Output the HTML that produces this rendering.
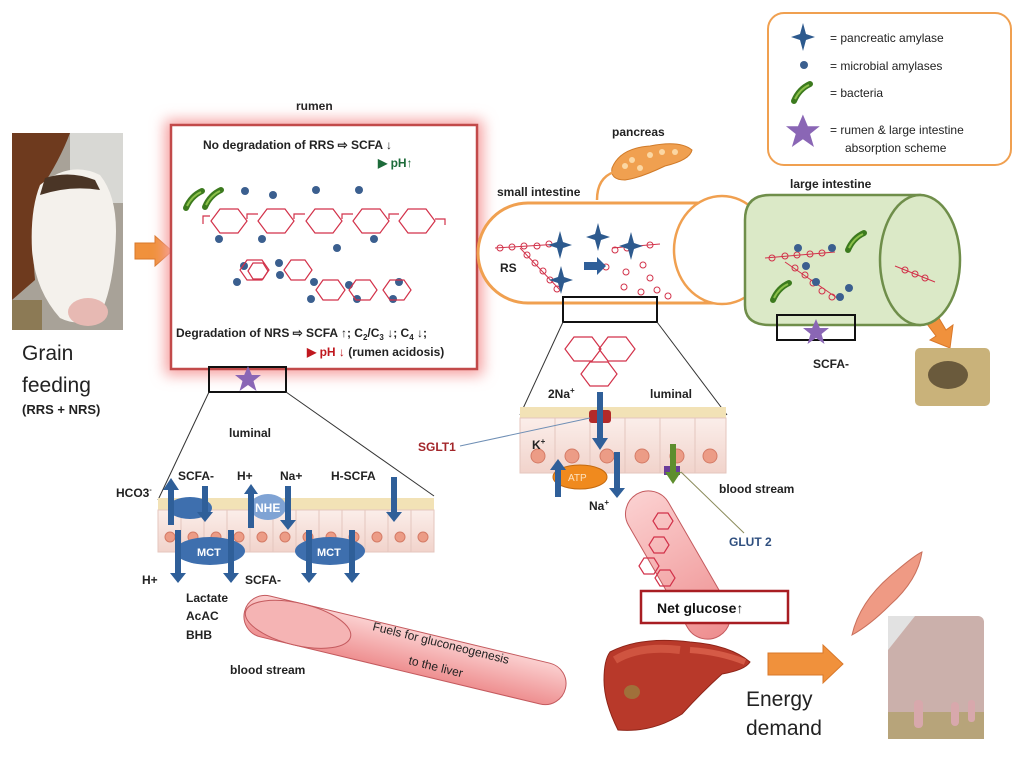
<!DOCTYPE html>
<html><head><meta charset="utf-8"><style>
html,body{margin:0;padding:0;background:#fff;}
svg{display:block;font-family:"Liberation Sans",sans-serif;}
.b{font-weight:bold;}
</style></head><body>
<svg width="1024" height="771" viewBox="0 0 1024 771" xmlns="http://www.w3.org/2000/svg">
<defs>
<filter id="glow" x="-20%" y="-20%" width="140%" height="140%"><feGaussianBlur stdDeviation="7"/></filter>
<linearGradient id="pinkT" x1="0" y1="0" x2="0" y2="1"><stop offset="0" stop-color="#fbd0d0"/><stop offset="1" stop-color="#ee8f90"/></linearGradient>
<linearGradient id="cellG" x1="0" y1="0" x2="0" y2="1"><stop offset="0" stop-color="#fbeeea"/><stop offset="1" stop-color="#f1d3cb"/></linearGradient>
<g id="star4"><path d="M0,-14 L3,-3 L12,0 L3,3 L0,14 L-3,3 L-12,0 L-3,-3Z" fill="#2d5a8e"/></g>
<g id="bug"><path d="M-9,8 Q-4,-4 7,-9" stroke="#3c7a1e" stroke-width="6" stroke-linecap="round" fill="none"/><path d="M-8,6 Q-3,-4 6,-8" stroke="#8cc04a" stroke-width="2" fill="none"/></g>
<g id="pstar"><path d="M0,-13 L3.8,-4 L13,-4 L5.5,2 L8.5,12 L0,6 L-8.5,12 L-5.5,2 L-13,-4 L-3.8,-4Z" fill="#8a66b5"/></g>
<g id="hex"><path d="M-10,0 L-5,-8 L5,-8 L10,0 L5,8 L-5,8Z" fill="none" stroke="#d2324a" stroke-width="1.2"/></g>
<g id="hexb"><path d="M-18,0 L-9,-12 L9,-12 L18,0 L9,12 L-9,12Z" fill="none" stroke="#d2324a" stroke-width="1.2"/></g>
</defs>

<!-- cow photo -->
<rect x="12" y="133" width="111" height="197" fill="#a8a298"/>
<rect x="70" y="133" width="53" height="70" fill="#d8d8d4"/>
<path d="M12,133 L70,133 Q60,160 40,190 Q30,230 35,280 L12,300Z" fill="#6e3a1e"/>
<path d="M40,185 Q70,160 100,175 Q120,200 115,250 Q112,290 100,315 Q80,328 60,318 Q35,290 32,250 Q30,210 40,185Z" fill="#f4f1ec"/>
<path d="M45,178 Q70,170 95,180 L100,190 Q70,185 40,195Z" fill="#4a3526"/>
<ellipse cx="88" cy="312" rx="20" ry="14" fill="#e7b9b3"/>
<rect x="12" y="300" width="30" height="30" fill="#8c7a55"/>

<text x="22" y="360" font-size="21" fill="#222">Grain</text>
<text x="22" y="392" font-size="21" fill="#222">feeding</text>
<text x="22" y="414" font-size="13" class="b" fill="#222">(RRS + NRS)</text>

<!-- orange arrows -->
<path d="M135,243 L155,243 L155,236 L172,251 L155,266 L155,259 L135,259Z" fill="#f0913c" stroke="#d9782a"/>
<path d="M448,232 L466,240 L470,232 L488,256 L460,262 L463,254 L444,246Z" fill="#f0913c" stroke="#d9782a"/>
<path d="M713,251 L735,251 L735,244 L752,258 L735,272 L735,265 L713,265Z" fill="#f0913c" stroke="#d9782a"/>
<path d="M918,312 L930,303 L946,330 L953,325 L950,348 L930,340 L936,336Z" fill="#f0913c" stroke="#d9782a"/>
<path d="M768,653 L823,653 L823,645 L843,664 L823,683 L823,675 L768,675Z" fill="#f0913c" stroke="#d9782a"/>

<!-- rumen -->
<text x="296" y="110" font-size="12" class="b" fill="#222">rumen</text>
<rect x="165" y="120" width="318" height="255" fill="#f6a0a0" filter="url(#glow)"/>
<rect x="171" y="125" width="306" height="244" fill="#fff" stroke="#c24a4a" stroke-width="2.5"/>
<text x="203" y="149" font-size="12" class="b" fill="#222">No degradation of RRS ⇨  SCFA ↓</text>
<text x="378" y="167" font-size="12" class="b" fill="#1d6b3a">▶ pH↑</text>
<use href="#bug" x="195" y="200"/><use href="#bug" x="214" y="199"/>
<g fill="#3b5f8f">
<circle cx="245" cy="191" r="4"/><circle cx="273" cy="195" r="4"/><circle cx="316" cy="190" r="4"/><circle cx="359" cy="190" r="4"/>
<circle cx="219" cy="239" r="4"/><circle cx="262" cy="239" r="4"/><circle cx="337" cy="248" r="4"/><circle cx="374" cy="239" r="4"/>
<circle cx="244" cy="266" r="4"/><circle cx="279" cy="263" r="4"/><circle cx="237" cy="282" r="4"/><circle cx="280" cy="275" r="4"/>
<circle cx="314" cy="282" r="4"/><circle cx="311" cy="299" r="4"/><circle cx="349" cy="285" r="4"/><circle cx="357" cy="299" r="4"/><circle cx="399" cy="282" r="4"/><circle cx="393" cy="299" r="4"/>
</g>
<g>
<use href="#hexb" x="229" y="221"/><use href="#hexb" x="276" y="221"/><use href="#hexb" x="324" y="221"/><use href="#hexb" x="371" y="221"/><use href="#hexb" x="417" y="221"/>
<path d="M203,224 L203,216 L210,216 M247,219 L247,214 L258,214 M294,219 L294,214 L305,214 M342,219 L342,214 L353,214 M389,219 L389,214 L399,214 M435,219 L445,219 L445,225" stroke="#d2324a" fill="none" stroke-width="1.2"/>
<use href="#hex" x="258" y="271"/>
<path d="M240,270 L247,260 L262,260 L269,270 L262,280 L247,280Z M284,270 L291,260 L305,260 L312,270 L305,280 L291,280Z M316,290 L323,280 L338,280 L345,290 L338,300 L323,300Z M349,290 L356,280 L370,280 L377,290 L370,300 L356,300Z M383,290 L390,280 L404,280 L411,290 L404,300 L390,300Z" fill="none" stroke="#d2324a" stroke-width="1.2"/>
</g>
<text x="176" y="337" font-size="12" class="b" fill="#222">Degradation of NRS ⇨  SCFA ↑; C<tspan font-size="8" dy="3">2</tspan><tspan dy="-3">/C</tspan><tspan font-size="8" dy="3">3</tspan><tspan dy="-3"> ↓; C</tspan><tspan font-size="8" dy="3">4</tspan><tspan dy="-3"> ↓;</tspan></text>
<text x="307" y="356" font-size="12" class="b" fill="#222"><tspan fill="#c0181f">▶ pH ↓</tspan> (rumen acidosis)</text>
<rect x="209" y="367" width="77" height="25" fill="none" stroke="#111" stroke-width="2"/>
<use href="#pstar" x="248" y="379"/>
<line x1="209" y1="392" x2="158" y2="500" stroke="#333" stroke-width="1"/>
<line x1="286" y1="392" x2="434" y2="496" stroke="#333" stroke-width="1"/>

<!-- rumen epithelium -->
<text x="229" y="437" font-size="12" class="b" fill="#222">luminal</text>
<g>
<rect x="158" y="498" width="276" height="20" fill="#f2e2b6"/>
<g fill="url(#cellG)" stroke="#e4c6be">
<rect x="158" y="510" width="23" height="42"/><rect x="181" y="510" width="23" height="42"/><rect x="204" y="510" width="23" height="42"/><rect x="227" y="510" width="23" height="42"/><rect x="250" y="510" width="23" height="42"/><rect x="273" y="510" width="23" height="42"/><rect x="296" y="510" width="23" height="42"/><rect x="319" y="510" width="23" height="42"/><rect x="342" y="510" width="23" height="42"/><rect x="365" y="510" width="23" height="42"/><rect x="388" y="510" width="23" height="42"/><rect x="411" y="510" width="23" height="42"/>
</g>
<g fill="#ec9c86" stroke="#d47b66"><circle cx="170" cy="537" r="5"/><circle cx="193" cy="537" r="5"/><circle cx="216" cy="537" r="5"/><circle cx="239" cy="537" r="5"/><circle cx="262" cy="537" r="5"/><circle cx="285" cy="537" r="5"/><circle cx="308" cy="537" r="5"/><circle cx="331" cy="537" r="5"/><circle cx="354" cy="537" r="5"/><circle cx="377" cy="537" r="5"/><circle cx="400" cy="537" r="5"/><circle cx="423" cy="537" r="5"/></g>
</g>
<ellipse cx="190" cy="508" rx="22" ry="11" fill="#3e6fae"/>
<ellipse cx="268" cy="507" rx="18" ry="13" fill="#7fa3d4"/><text x="255" y="512" font-size="12" class="b" fill="#fff">NHE</text>
<ellipse cx="210" cy="551" rx="35" ry="14" fill="#3e6fae"/><text x="197" y="556" font-size="11" class="b" fill="#fff">MCT</text>
<ellipse cx="330" cy="551" rx="35" ry="14" fill="#3e6fae"/><text x="317" y="556" font-size="11" class="b" fill="#fff">MCT</text>
<g fill="#2f5f99">
<path d="M168,525 L168,490 L163,490 L171,478 L179,490 L174,490 L174,525Z"/>
<path d="M202,486 L208,486 L208,512 L213,512 L205,522 L197,512 L202,512Z"/>
<path d="M248,528 L248,494 L244,494 L251,484 L258,494 L254,494 L254,528Z"/>
<path d="M285,486 L291,486 L291,520 L296,520 L288,530 L280,520 L285,520Z"/>
<path d="M391,477 L397,477 L397,512 L402,512 L394,522 L386,512 L391,512Z"/>
<path d="M175,530 L181,530 L181,573 L186,573 L178,583 L170,573 L175,573Z"/>
<path d="M228,530 L234,530 L234,573 L239,573 L231,583 L223,573 L228,573Z"/>
<path d="M306,530 L312,530 L312,573 L317,573 L309,583 L301,573 L306,573Z"/>
<path d="M349,530 L355,530 L355,573 L360,573 L352,583 L344,573 L349,573Z"/>
</g>
<g font-size="12" class="b" fill="#222">
<text x="116" y="497">HCO3<tspan font-size="7" dy="-5">-</tspan></text>
<text x="178" y="480">SCFA-</text><text x="237" y="480">H+</text><text x="280" y="480">Na+</text><text x="331" y="480">H-SCFA</text>
<text x="142" y="584">H+</text><text x="245" y="584">SCFA-</text>
<text x="186" y="602">Lactate</text><text x="186" y="620">AcAC</text><text x="186" y="639">BHB</text>
<text x="230" y="674">blood stream</text>
</g>

<!-- blood tube -->
<g transform="translate(405,650) rotate(13.5)">
<rect x="-165" y="-21" width="330" height="42" rx="21" fill="url(#pinkT)" stroke="#c45a5e"/>
<ellipse cx="-110" cy="0" rx="54" ry="21" fill="#f5b4b4" stroke="#c45a5e"/>
</g>
<text transform="translate(372,630) rotate(14)" font-size="12" fill="#222">Fuels for gluconeogenesis</text>
<text transform="translate(408,664) rotate(14)" font-size="12" fill="#222">to the liver</text>

<!-- pancreas -->
<text x="612" y="136" font-size="12" class="b" fill="#222">pancreas</text>
<path d="M612,168 Q620,148 650,146 Q680,140 692,150 Q690,160 665,166 Q640,178 625,180 Q610,180 612,168Z" fill="#f0a050" stroke="#d07a28"/>
<g fill="#fbd7a3"><circle cx="625" cy="166" r="3"/><circle cx="632" cy="160" r="3"/><circle cx="640" cy="168" r="3"/><circle cx="650" cy="155" r="3"/><circle cx="662" cy="152" r="3"/><circle cx="675" cy="152" r="3"/></g>
<path d="M597,200 Q597,178 614,172" stroke="#f0a050" stroke-width="2.5" fill="none"/>

<!-- small intestine -->
<text x="497" y="196" font-size="12" class="b" fill="#222">small intestine</text>
<path d="M528,203 L720,203 A50,50 0 0 1 720,303 L528,303 A50,50 0 0 1 528,203Z" fill="#fff" stroke="#f0a050" stroke-width="3"/>
<ellipse cx="722" cy="250" rx="48" ry="54" fill="#fff" stroke="#f0a050" stroke-width="2.5"/>
<g fill="none" stroke="#d2324a" stroke-width="1">
<path d="M495,248 L560,244 M520,248 L560,290 M612,248 L660,244"/>
<circle cx="500" cy="248" r="3"/><circle cx="512" cy="247" r="3"/><circle cx="524" cy="246" r="3"/><circle cx="537" cy="246" r="3"/><circle cx="549" cy="244" r="3"/>
<circle cx="527" cy="255" r="3"/><circle cx="535" cy="263" r="3"/><circle cx="543" cy="271" r="3"/><circle cx="550" cy="280" r="3"/><circle cx="557" cy="289" r="3"/>
<circle cx="615" cy="250" r="3"/><circle cx="627" cy="248" r="3"/><circle cx="650" cy="245" r="3"/><circle cx="606" cy="267" r="3"/>
<circle cx="626" cy="272" r="3"/><circle cx="643" cy="265" r="3"/><circle cx="650" cy="278" r="3"/><circle cx="624" cy="287" r="3"/><circle cx="641" cy="292" r="3"/><circle cx="657" cy="290" r="3"/><circle cx="668" cy="296" r="3"/><circle cx="590" cy="266" r="3"/>
</g>
<use href="#star4" x="560" y="245"/><use href="#star4" x="598" y="237"/><use href="#star4" x="631" y="246"/><use href="#star4" x="561" y="280"/>
<path d="M584,262 L597,262 L597,257 L606,266 L597,275 L597,270 L584,270Z" fill="#2f5f99"/>
<text x="500" y="272" font-size="12" class="b" fill="#222">RS</text>
<rect x="563" y="297" width="94" height="25" fill="none" stroke="#111" stroke-width="2"/>
<line x1="563" y1="322" x2="520" y2="415" stroke="#333"/>
<line x1="657" y1="322" x2="727" y2="415" stroke="#333"/>

<!-- SI epithelium -->
<use href="#hexb" x="583" y="349"/><use href="#hexb" x="617" y="349"/><use href="#hexb" x="599" y="374"/>
<rect x="520" y="407" width="206" height="18" fill="#f2e2b6"/>
<g fill="url(#cellG)" stroke="#e4c6be">
<rect x="520" y="418" width="35" height="55"/><rect x="555" y="418" width="35" height="55"/><rect x="590" y="418" width="35" height="55"/><rect x="625" y="418" width="35" height="55"/><rect x="660" y="418" width="35" height="55"/><rect x="695" y="418" width="31" height="55"/>
</g>
<g fill="#ec9c86" stroke="#d47b66"><circle cx="538" cy="456" r="7"/><circle cx="572" cy="456" r="7"/><circle cx="607" cy="456" r="7"/><circle cx="642" cy="456" r="7"/><circle cx="677" cy="456" r="7"/><circle cx="710" cy="456" r="7"/></g>
<rect x="589" y="410" width="22" height="13" rx="3" fill="#b22a2a"/>
<ellipse cx="580" cy="477" rx="27" ry="12" fill="#f08a1e" stroke="#c46a10"/><text x="568" y="481" font-size="10" fill="#fde3c0">ATP</text>
<rect x="664" y="466" width="16" height="9" fill="#6a3d9a"/>
<g fill="#2f5f99">
<path d="M597,392 L603,392 L603,438 L608,438 L600,450 L592,438 L597,438Z"/>
<path d="M555,497 L555,470 L550,470 L558,459 L566,470 L561,470 L561,497Z"/>
<path d="M614,452 L620,452 L620,488 L625,488 L617,498 L609,488 L614,488Z"/>
</g>
<path d="M670,444 L676,444 L676,472 L681,472 L673,484 L665,472 L670,472Z" fill="#5e8e2e"/>
<g font-size="12" class="b" fill="#222">
<text x="548" y="398">2Na<tspan font-size="8" dy="-5">+</tspan></text>
<text x="650" y="398">luminal</text>
<text x="532" y="449">K<tspan font-size="8" dy="-5">+</tspan></text>
<text x="589" y="510">Na<tspan font-size="8" dy="-5">+</tspan></text>
<text x="719" y="493">blood stream</text>
</g>
<text x="418" y="451" font-size="12" class="b" fill="#a3262a">SGLT1</text>
<line x1="460" y1="446" x2="590" y2="418" stroke="#6f8fb5"/>
<text x="729" y="546" font-size="12" class="b" fill="#2f4f7f">GLUT 2</text>
<line x1="681" y1="472" x2="744" y2="533" stroke="#8a8a5a"/>

<!-- SI blood tube -->
<g transform="translate(678,565) rotate(-30)">
<rect x="-23" y="-82" width="46" height="164" rx="23" fill="url(#pinkT)" stroke="#c45a5e"/>
</g>
<use href="#hex" x="663" y="521"/><use href="#hex" x="659" y="545"/><use href="#hex" x="649" y="566"/><use href="#hex" x="665" y="578"/>
<rect x="641" y="591" width="147" height="32" fill="#fff" stroke="#a81d22" stroke-width="2.5"/>
<text x="657" y="613" font-size="14" class="b" fill="#111">Net glucose↑</text>

<!-- liver -->
<path d="M610,652 Q640,636 690,642 Q730,645 750,662 Q745,670 722,674 Q702,692 682,714 Q652,733 618,730 Q604,702 604,680 Q604,660 610,652Z" fill="#b8392a" stroke="#8e2418"/>
<path d="M690,650 Q720,652 745,662" stroke="#d55a46" stroke-width="6" fill="none"/>
<path d="M615,660 Q640,645 680,650" stroke="#cf5440" stroke-width="8" fill="none"/>
<ellipse cx="632" cy="692" rx="8" ry="7" fill="#a0703a"/>
<text x="746" y="706" font-size="21" fill="#222">Energy</text>
<text x="746" y="735" font-size="21" fill="#222">demand</text>

<!-- muscle -->
<path d="M852,635 Q860,600 895,572 Q915,555 922,552 Q918,580 890,605 Q870,625 852,635Z" fill="#ef9a84" stroke="#c9705c"/>
<!-- udder photo -->
<rect x="888" y="616" width="96" height="123" rx="6" fill="#cbb0ab"/>
<path d="M888,616 L915,616 L888,650Z" fill="#e2e2e2"/>
<rect x="888" y="712" width="96" height="27" fill="#b7a47a"/>
<rect x="914" y="700" width="9" height="28" rx="4" fill="#d8a8ac"/><rect x="951" y="702" width="8" height="24" rx="4" fill="#d8a8ac"/><rect x="968" y="700" width="7" height="22" rx="3" fill="#d8a8ac"/>

<!-- large intestine -->
<text x="790" y="188" font-size="12" class="b" fill="#222">large intestine</text>
<path d="M920,195 L770,195 Q745,195 745,220 L745,305 Q745,325 770,325 L920,325Z" fill="#dbe9c7" stroke="#6f8e4a" stroke-width="2.5"/>
<ellipse cx="920" cy="260" rx="40" ry="65" fill="#dbe9c7" stroke="#6f8e4a" stroke-width="2.5"/>
<g fill="none" stroke="#d2324a" stroke-width="1">
<path d="M765,258 L835,252 M785,262 L840,300 M895,266 L935,282"/>
<circle cx="772" cy="258" r="3"/><circle cx="785" cy="256" r="3"/><circle cx="797" cy="255" r="3"/><circle cx="810" cy="254" r="3"/><circle cx="822" cy="253" r="3"/>
<circle cx="795" cy="268" r="3"/><circle cx="805" cy="275" r="3"/><circle cx="813" cy="283" r="3"/><circle cx="822" cy="291" r="3"/><circle cx="832" cy="297" r="3"/>
<circle cx="905" cy="270" r="3"/><circle cx="915" cy="274" r="3"/><circle cx="925" cy="278" r="3"/>
</g>
<g fill="#3b5f8f"><circle cx="798" cy="248" r="4"/><circle cx="832" cy="248" r="4"/><circle cx="806" cy="266" r="4"/><circle cx="816" cy="282" r="4"/><circle cx="849" cy="288" r="4"/><circle cx="840" cy="297" r="4"/></g>
<use href="#bug" x="857" y="242"/><use href="#bug" x="782" y="292"/>
<rect x="777" y="315" width="78" height="25" fill="none" stroke="#111" stroke-width="2"/>
<use href="#pstar" x="816" y="332"/>
<text x="813" y="368" font-size="12" class="b" fill="#222">SCFA-</text>
<!-- feces photo -->
<rect x="915" y="348" width="75" height="58" rx="5" fill="#c9b27a"/>
<ellipse cx="948" cy="375" rx="20" ry="14" fill="#6a5a3c"/>

<!-- legend -->
<rect x="768" y="13" width="243" height="152" rx="16" fill="#fff" stroke="#f0a050" stroke-width="2"/>
<use href="#star4" x="803" y="37"/>
<circle cx="804" cy="65" r="4" fill="#3b5f8f"/>
<use href="#bug" x="803" y="93"/>
<use href="#pstar" x="803" y="128" transform="translate(-241,-35) scale(1.3)"/>
<g font-size="12" fill="#222">
<text x="830" y="42">= pancreatic amylase</text>
<text x="830" y="70">= microbial amylases</text>
<text x="830" y="97">=  bacteria</text>
<text x="830" y="134">= rumen &amp; large intestine</text>
<text x="845" y="152">absorption scheme</text>
</g>
</svg>
</body></html>
